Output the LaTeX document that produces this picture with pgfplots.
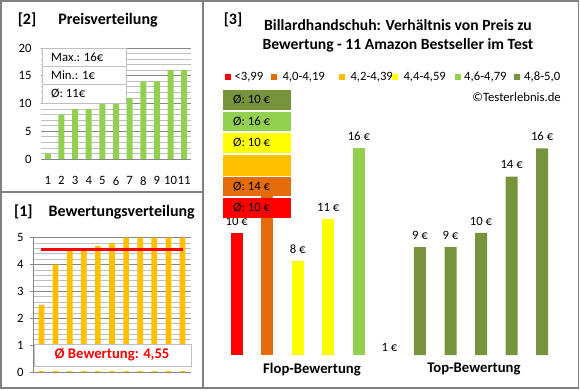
\documentclass[border=0pt]{standalone}
\usepackage{pgfplots}
\pgfplotsset{compat=1.18}
\usepackage{fontspec}
\setmainfont{Carlito}
\definecolor{cRed}{HTML}{FF0000}
\definecolor{cOrange}{HTML}{E46C0A}
\definecolor{cGold}{HTML}{FFC000}
\definecolor{cYellow}{HTML}{FFFF00}
\definecolor{cLgreen}{HTML}{92D050}
\definecolor{cOlive}{HTML}{77933C}
\definecolor{gridM}{HTML}{868686}
\definecolor{gridm}{HTML}{BFBFBF}
\definecolor{frameC}{HTML}{808080}
\newcommand{\fs}{\fontsize{12.7bp}{15bp}\selectfont}
\newcommand{\fb}{\fontsize{14.7bp}{17bp}\selectfont\bfseries}
\newcommand{\fh}{\fontsize{15.6bp}{18bp}\selectfont\bfseries}
\newcommand{\ft}{\fontsize{16bp}{19bp}\selectfont\bfseries}
\pgfplotsset{/pgf/number format/assume math mode=true}
\begin{document}
\begin{tikzpicture}[x=1bp,y=1bp]
\fill[white] (0,0) rectangle (580,390);
% ---------- Panel [2] Preisverteilung
\begin{axis}[at={(41bp,231bp)}, anchor=south west, scale only axis,
  width=150bp, height=111bp, xmin=0.5, xmax=11.5, ymin=0, ymax=20,
  xtick={1,...,11}, ytick={0,5,10,15,20}, minor ytick={1,...,19},
  ymajorgrids, yminorgrids,
  major grid style={color=gridM, line width=0.8bp},
  minor grid style={color=gridm, line width=0.8bp},
  axis line style={draw=none}, major tick length=0pt, minor tick length=0pt,
  ticklabel style={font=\fs},
  xticklabel style={yshift=-14bp}, yticklabel style={xshift=-6bp},
  ybar, bar width=6bp, bar shift=0pt]
\addplot[fill=cLgreen, draw=none] coordinates {(1,1) (2,8) (3,9) (4,9) (5,10) (6,10) (7,11) (8,14) (9,14) (10,16) (11,16)};
\end{axis}
% legend box panel 2
\begin{scope}[draw=gridm, line width=1bp]
\fill[white] (42,287) rectangle (126,342);
\draw (42,287) rectangle (126,342);
\draw (42,323.7) -- (126,323.7);
\draw (42,305.3) -- (126,305.3);
\end{scope}
\node[anchor=west, font=\fs, inner sep=0] at (51,333) {Max.: 16€};
\node[anchor=west, font=\fs, inner sep=0] at (51,314.5) {Min.: 1€};
\node[anchor=west, font=\fs, inner sep=0] at (51,296) {Ø: 11€};
\node[font=\ft] at (27,370) {[2]};
\node[font=\ft] at (108,370) {Preisverteilung};
% ---------- Panel [1] Bewertungsverteilung
\begin{axis}[at={(33bp,18bp)}, anchor=south west, scale only axis,
  width=158bp, height=134.3bp, xmin=0.4, xmax=11.6, ymin=0, ymax=5,
  xtick=\empty, ytick={0,...,5}, minor y tick num=4,
  ymajorgrids, yminorgrids,
  major grid style={color=gridM, line width=0.8bp},
  minor grid style={color=gridm, line width=0.8bp},
  axis x line=none, axis y line*=left,
  y axis line style={-, color=gridM, line width=0.8bp},
  tick align=outside, major tick length=3bp, minor tick length=0pt,
  ytick style={color=gridM, line width=0.8bp},
  ticklabel style={font=\fs}, yticklabel style={xshift=-3bp},
  ybar, bar width=5.7bp, bar shift=0pt]
\addplot[fill=cGold, draw=none] coordinates {(1,2.5) (2,4) (3,4.5) (4,4.5) (5,4.7) (6,4.8) (7,5) (8,5) (9,5) (10,5) (11,5)};
\addplot[sharp plot, color=cRed, line width=3bp, forget plot] coordinates {(1,4.55) (11,4.55)};
\end{axis}
\fill[white] (34,18.8) rectangle (191,46);
\draw[gridm, line width=1bp] (34,24) rectangle (191,46);
\node[font=\fb, text=cRed] at (112,35) {Ø Bewertung: 4,55};
\node[font=\ft] at (23.3,178) {[1]};
\node[font=\ft] at (121.7,178) {Bewertungsverteilung};
% ---------- Panel [3]
\begin{axis}[at={(221.4bp,35bp)}, anchor=south west, scale only axis,
  width=336bp, height=234.8bp, xmin=-0.5, xmax=10.5, ymin=1.345, ymax=18,
  hide axis, ybar, bar width=12bp, bar shift=0pt,
  nodes near coords={\pgfmathprintnumber{\pgfplotspointmeta}~€},
  every node near coord/.append style={font=\fs, text=black, yshift=4bp}]
\addplot[fill=cRed, draw=none] coordinates {(0,10)};
\addplot[fill=cOrange, draw=none] coordinates {(1,14)};
\addplot[fill=cYellow, draw=none] coordinates {(2,8)};
\addplot[fill=cYellow, draw=none] coordinates {(3,11)};
\addplot[fill=cLgreen, draw=none] coordinates {(4,16)};
\addplot[fill=cOlive, draw=none] coordinates {(6,9) (7,9) (8,10) (9,14) (10,16)};
\node[font=\fs, anchor=south] at (axis cs:5,1.345) {1~€};
\end{axis}
% average boxes
\fill[cOlive] (223,300) rectangle (291,280);
\fill[cLgreen] (223,278) rectangle (291,259);
\fill[cYellow] (223,257) rectangle (291,237);
\fill[cGold] (223,235) rectangle (291,214);
\fill[cOrange] (223,213) rectangle (291,194);
\fill[cRed] (223,192) rectangle (291,172);
\node[anchor=west, font=\fs, inner sep=0] at (233,290) {Ø: 10 €};
\node[anchor=west, font=\fs, inner sep=0] at (233,268.5) {Ø: 16 €};
\node[anchor=west, font=\fs, inner sep=0] at (233,247) {Ø: 10 €};
\node[anchor=west, font=\fs, inner sep=0] at (233,203.5) {Ø: 14 €};
\node[anchor=west, font=\fs, inner sep=0] at (233,182) {Ø: 10 €};
% titles
\node[font=\ft] at (233,370) {[3]};
\node[font=\fh] at (398,365) {Billardhandschuh: Verhältnis von Preis zu};
\node[font=\fh] at (398,345) {Bewertung - 11 Amazon Bestseller im Test};
% legend
\begin{scope}[every node/.style={anchor=west, font=\fs, inner sep=0}]
\fill[cRed] (225.3,310.3) rectangle ++(6,6);
\node at (234.3,313.3) {<3,99};
\fill[cOrange] (271.3,310.3) rectangle ++(6,6);
\node at (282.3,313.3) {4,0-4,19};
\fill[cGold] (339,310.3) rectangle ++(6,6);
\node at (350.3,313.3) {4,2-4,39};
\fill[cYellow] (392,310.3) rectangle ++(6,6);
\node at (403.3,313.3) {4,4-4,59};
\fill[cLgreen] (455.3,310.3) rectangle ++(6,6);
\node at (464,313.3) {4,6-4,79};
\fill[cOlive] (514,310.3) rectangle ++(6,6);
\node at (524,313.3) {4,8-5,0};
\end{scope}
\node[anchor=east, font=\fs, inner sep=0] at (561,292.7) {©Testerlebnis.de};
\node[font=\fb] at (312,20) {Flop-Bewertung};
\node[font=\fb] at (474,21) {Top-Bewertung};
% frames
\draw[frameC, line width=1.5bp] (1,2) rectangle (578.5,389);
\draw[frameC, line width=1.5bp] (203,2) -- (203,389);
\draw[frameC, line width=1.5bp] (1,198) -- (203,198);
\end{tikzpicture}
\end{document}
